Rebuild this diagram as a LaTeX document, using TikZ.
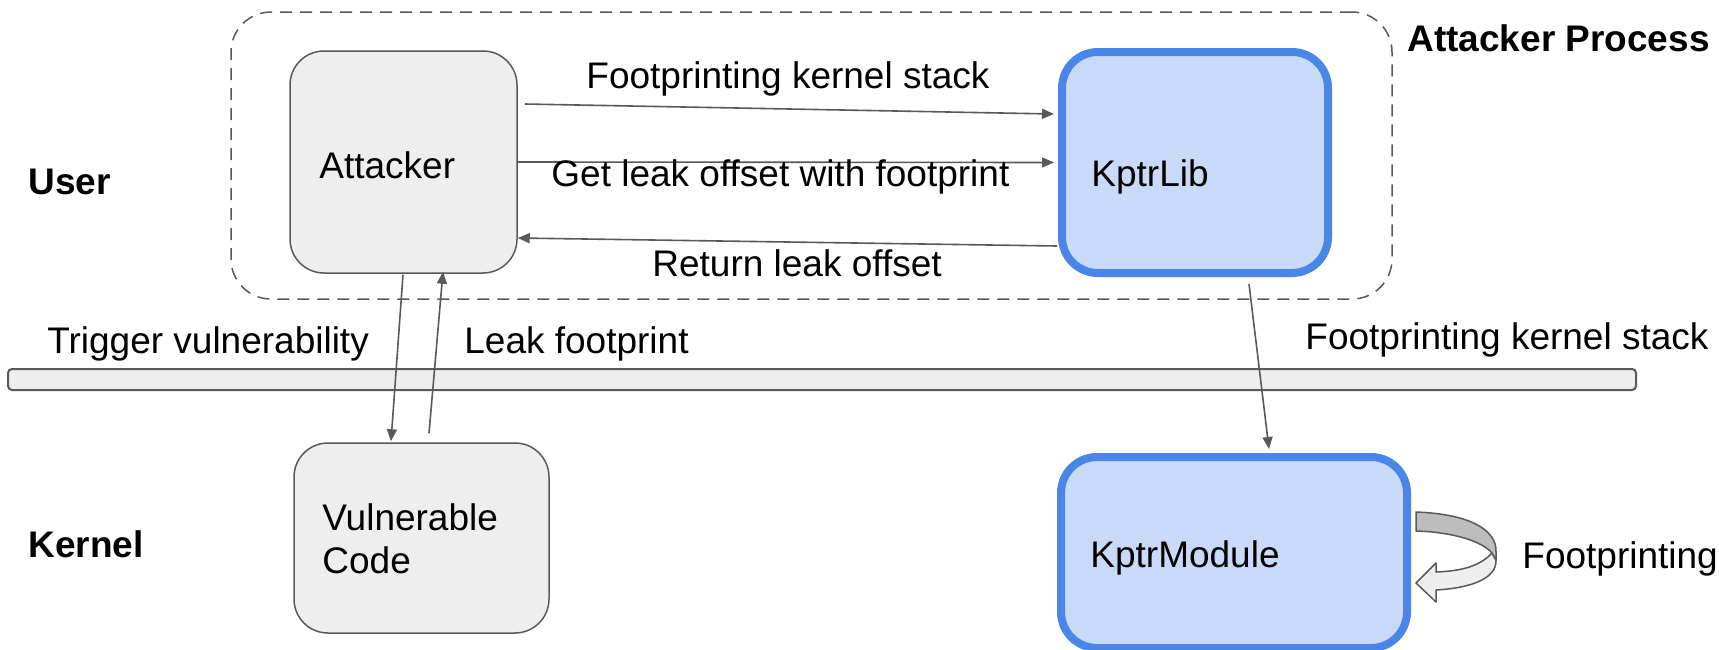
\documentclass[tikz,border=0pt]{standalone}
\usepackage{fontspec}
\setmainfont{Liberation Sans}
\usetikzlibrary{arrows.meta,fit}

\definecolor{linegray}{HTML}{595959}
\definecolor{boxgray}{HTML}{EEEEEE}
\definecolor{blueline}{HTML}{4A86E8}
\definecolor{bluefill}{HTML}{C9DAF8}
\definecolor{ribbondark}{HTML}{BDBDBD}

\begin{document}
\begin{tikzpicture}[x=0.5pt,y=-0.5pt,
  txt/.style={inner sep=0pt, font=\fontsize{18.5pt}{21.5pt}\selectfont, anchor=base west},
  headtxt/.style={txt, font=\fontsize{18.5pt}{21.5pt}\selectfont\bfseries},
  graybox/.style={draw=linegray, fill=boxgray, line width=0.75pt, rounded corners=17pt, inner sep=0pt},
  bluebox/.style={draw=blueline, fill=bluefill, line width=4pt, rounded corners=18pt, inner sep=0pt},
  procbox/.style={draw=linegray, line width=0.75pt, dash pattern=on 6pt off 4pt, rounded corners=20pt, inner sep=0pt},
  barbox/.style={draw=linegray, fill=boxgray, line width=1pt, rounded corners=2pt, inner sep=0pt},
  conn/.style={draw=linegray, line width=0.8pt, -{Triangle[length=6pt,width=5pt]}},
  ribbon/.style={draw=linegray, line width=0.75pt, line join=round},
]
\useasboundingbox (0,0) rectangle (1719,649);

% user/kernel boundary and the attacker process frame
\node[barbox, fit={(8,369) (1636,390)}] (bar) {};
\node[procbox, fit={(231,12) (1392,299)}] (proc) {};

% components
\node[graybox, fit={(290,51) (517,273)}] (att) {};
\node[bluebox, fit={(1062,52) (1328,273)}] (lib) {};
\node[graybox, fit={(294,443) (549,633)}] (vul) {};
\node[bluebox, fit={(1061,457) (1407,648)}] (mod) {};

% component names
\node[txt] (attT) at (319,178) {Attacker};
\node[txt] (libT) at (1091,186) {KptrLib};
\node[txt, anchor=north west, align=left] (vulT) at (322,503.5) {Vulnerable\\Code};
\node[txt] (modT) at (1090,567) {KptrModule};

% region captions
\node[headtxt] (procT) at (1407,51) {Attacker Process};
\node[headtxt] (userT) at (28,194) {User};
\node[headtxt] (kernT) at (28,557) {Kernel};

% connectors
\draw[conn] ([shift={(7,-58)}]att.east) -- ([shift={(-4,-48.5)}]lib.west);
\draw[conn] (att.east) -- ([shift={(-4,0)}]lib.west);
\draw[conn] ([shift={(-1,83.5)}]lib.west) -- ([shift={(0,76)}]att.east);
\draw[conn] ([shift={(-0.5,1)}]att.south) -- ([shift={(-30.5,-1)}]vul.north);
\draw[conn] ([shift={(7.5,-9)}]vul.north) -- ([shift={(39.5,-2)}]att.south);
\draw[conn] ([shift={(54,7)}]lib.south) -- ([shift={(35,-4)}]mod.north);

% connector labels
\node[txt] (l1) at (586,88) {Footprinting kernel stack};
\node[txt] (l2) at (551,186) {Get leak offset with footprint};
\node[txt] (l3) at (652,276) {Return leak offset};
\node[txt] (l4) at (47,353) {Trigger vulnerability};
\node[txt] (l5) at (464,353) {Leak footprint};
\node[txt] (l6) at (1305,349) {Footprinting kernel stack};

% curled self-arrow beside the module
\draw[ribbon, fill=boxgray]
  (1492,553) .. controls (1480,566) and (1462,571) .. (1436,572)
  -- (1436,563) -- (1416,583) -- (1436,602) -- (1436,590)
  .. controls (1472,588) and (1497,578) .. (1496,560) -- cycle;
\draw[ribbon, fill=ribbondark]
  (1416,512) .. controls (1470,514) and (1497,530) .. (1496,552)
  -- (1496,560) -- (1492,553)
  .. controls (1482,541) and (1452,532) .. (1416,531) -- cycle;
\node[txt] (fpT) at (1522,568) {Footprinting};
\end{tikzpicture}
\end{document}
